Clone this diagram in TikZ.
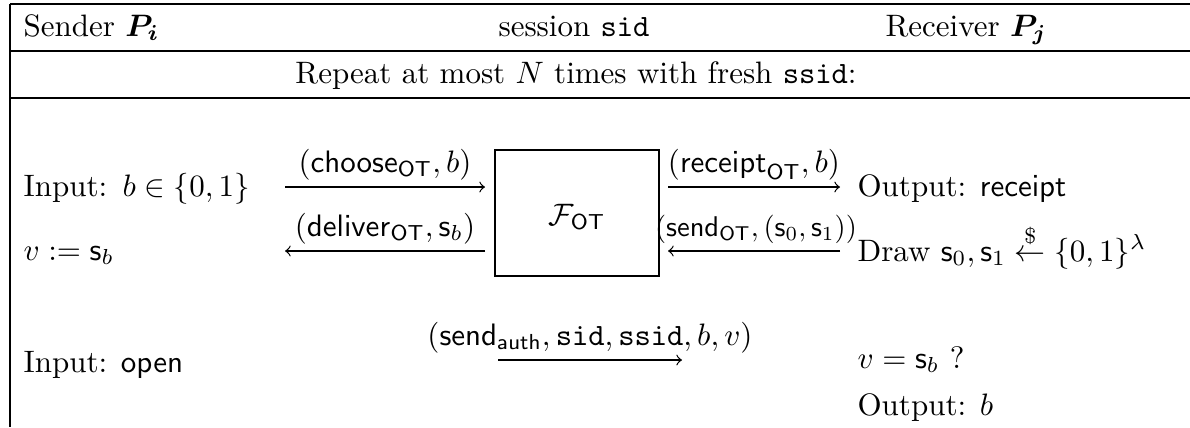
\documentclass[tikz,border=0pt]{standalone}
\usepackage{amsmath,amssymb}
\begin{document}
\begin{tikzpicture}[x=0.3226pt,y=-0.3226pt,
  txt/.style={inner sep=0pt, anchor=base west},
  ctxt/.style={inner sep=0pt, anchor=base},
  rule/.style={line width=0.45pt},
  msg/.style={line width=0.4pt, ->, >=to}]
\useasboundingbox (0,0) rectangle (1190,427);
% table rules
\coordinate (tl) at (10,4);
\coordinate (tr) at (1190,4);
\coordinate (m1l) at (10,51);
\coordinate (m1r) at (1190,51);
\coordinate (m2l) at (10,98);
\coordinate (m2r) at (1190,98);
\coordinate (bl) at (10,427);
\draw[rule] (tl) -- (tr);
\draw[rule] (m1l) -- (m1r);
\draw[rule] (m2l) -- (m2r);
\draw[rule] (tl) -- (bl);
% header
\node[txt] (sender) at (23,36) {Sender $\boldsymbol{P_i}$};
\node[ctxt] (session) at (574,36) {session \texttt{sid}};
\node[txt] (receiver) at (885,36) {Receiver $\boldsymbol{P_j}$};
\node[ctxt] (repeat) at (576,83) {Repeat at most $N$ times with fresh \texttt{ssid}:};
% functionality box
\draw[line width=0.45pt] (495,150) rectangle (659,276);
\node[ctxt] (fot) at (577,225) {$\mathcal{F}_{\mathsf{OT}}$};
% sender side
\node[txt] (in1) at (23,196) {Input:\ \,$b \in \{0,1\}$};
\node[txt] (vassign) at (23,260) {$v := \mathsf{s}_b$};
\coordinate (c1s) at (285,187);
\coordinate (c1e) at (485,187);
\draw[msg] (c1s) -- (c1e);
\node[ctxt] (choose) at (385,172) {$(\mathsf{choose}_{\mathsf{OT}}, b)$};
\coordinate (d1s) at (485,251);
\coordinate (d1e) at (285,251);
\draw[msg] (d1s) -- (d1e);
\node[ctxt] (deliver) at (385,236) {$(\mathsf{deliver}_{\mathsf{OT}}, \mathsf{s}_b)$};
% receiver side
\coordinate (r1s) at (668,187);
\coordinate (r1e) at (840,187);
\draw[msg] (r1s) -- (r1e);
\node[ctxt] (receipt) at (754,172) {$(\mathsf{receipt}_{\mathsf{OT}}, b)$};
\coordinate (s1s) at (840,251);
\coordinate (s1e) at (668,251);
\draw[msg] (s1s) -- (s1e);
\node[ctxt] (sendot) at (756,236) {\scalebox{0.92}{$(\mathsf{send}_{\mathsf{OT}}, (\mathsf{s}_0,\mathsf{s}_1))$}};
\node[txt] (out1) at (857,196) {Output: $\mathsf{receipt}$};
\node[txt] (draw) at (857,261) {Draw $\mathsf{s}_0,\mathsf{s}_1 \overset{\$}{\leftarrow} \{0,1\}^\lambda$};
% open phase
\node[txt] (in2) at (23,372) {Input: $\mathsf{open}$};
\coordinate (a1s) at (498,360);
\coordinate (a1e) at (682,360);
\draw[msg] (a1s) -- (a1e);
\node[ctxt] (sendauth) at (590,345) {$(\mathsf{send}_{\mathsf{auth}}, \mathtt{sid}, \mathtt{ssid}, b, v)$};
\node[txt] (check) at (857,368) {$v = \mathsf{s}_b$ ?};
\node[txt] (out2) at (857,415) {Output: $b$};
\end{tikzpicture}
\end{document}
